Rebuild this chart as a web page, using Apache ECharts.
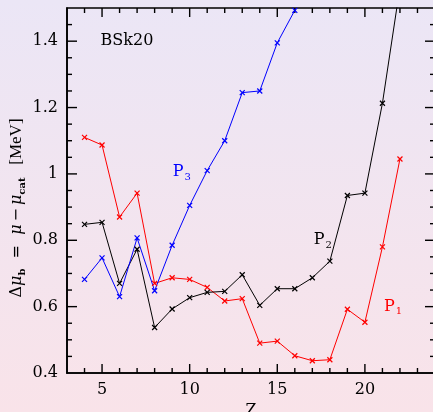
<!DOCTYPE html>
<html>
<head>
<meta charset="utf-8">
<script src="https://cdn.jsdelivr.net/npm/echarts@6/dist/echarts.min.js"></script>
<style>
  html, body { margin: 0; padding: 0; }
  #chart { width: 433px; height: 412px; }
</style>
</head>
<body>
<div id="chart"></div>
<script>
// Proton number Z of the nuclei
const zValues = [4, 5, 6, 7, 8, 9, 10, 11, 12, 13, 14, 15, 16, 17, 18, 19, 20, 21, 22];
// Δμ_b in MeV for the three pressures
const p1Values = [1.110, 1.087, 0.870, 0.942, 0.670, 0.687, 0.682, 0.658, 0.617, 0.624, 0.490, 0.496, 0.452, 0.437, 0.440, 0.592, 0.553, 0.780, 1.045];
const p2Values = [0.848, 0.854, 0.670, 0.773, 0.537, 0.593, 0.627, 0.643, 0.646, 0.696, 0.604, 0.654, 0.654, 0.687, 0.737, 0.935, 0.942, 1.213, 1.563];
const p3Values = [0.682, 0.747, 0.630, 0.807, 0.648, 0.785, 0.905, 1.010, 1.100, 1.245, 1.250, 1.395, 1.493];

// Tick positions on the frame
const xMajorTicks = [5, 10, 15, 20];
const xMinorTicks = [4, 6, 7, 8, 9, 11, 12, 13, 14, 16, 17, 18, 19, 21, 22, 23];
const yMajorTicks = [0.6, 0.8, 1.0, 1.2, 1.4];
const yMinorTicks = [0.45, 0.5, 0.55, 0.65, 0.7, 0.75, 0.85, 0.9, 0.95, 1.05, 1.1, 1.15, 1.25, 1.3, 1.35, 1.45];

const FONT = '"DejaVu Serif", "Liberation Serif", serif';
const cross = 'path://M0,0L10,10M10,0L0,10';
const X_MIN = 3, X_MAX = 24, Y_MIN = 0.4, Y_MAX = 1.5;

function pairs(ys) { return ys.map((y, i) => [zValues[i], y]); }

function series(name, ys, color) {
  return {
    name, type: 'line', data: pairs(ys), clip: true,
    symbol: cross, symbolSize: 5,
    lineStyle: { color, width: 1 },
    itemStyle: { color: 'none', borderColor: color, borderWidth: 1.2 },
    emphasis: { disabled: true },
    animation: false
  };
}

// Inward ticks on all four sides of the frame, placed through the axes' scales
// kind: 0 = minor Z, 1 = major Z, 2 = minor Δμ, 3 = major Δμ
const tickData = [].concat(
  xMinorTicks.map(v => [v, 0]),
  xMajorTicks.map(v => [v, 1]),
  yMinorTicks.map(v => [v, 2]),
  yMajorTicks.map(v => [v, 3])
);

const tickSeries = {
  type: 'custom', coordinateSystem: 'cartesian2d', clip: false, silent: true, z: 3,
  animation: false,
  dimensions: ['pos', 'kind'],
  encode: { x: -1, y: -1 },
  data: tickData,
  renderItem(params, api) {
    const v = api.value(0), kind = api.value(1);
    const style = { stroke: '#000', lineWidth: 1.4, fill: null };
    let children;
    if (kind < 2) {
      const len = kind === 1 ? 9 : 5;
      const a = api.coord([v, Y_MIN]), b = api.coord([v, Y_MAX]);
      children = [
        { type: 'line', shape: { x1: a[0], y1: a[1], x2: a[0], y2: a[1] - len }, style },
        { type: 'line', shape: { x1: b[0], y1: b[1], x2: b[0], y2: b[1] + len }, style }
      ];
    } else {
      const len = kind === 3 ? 10 : 5;
      const a = api.coord([X_MIN, v]), b = api.coord([X_MAX, v]);
      children = [
        { type: 'line', shape: { x1: a[0], y1: a[1], x2: a[0] + len, y2: a[1] }, style },
        { type: 'line', shape: { x1: b[0], y1: b[1], x2: b[0] - len, y2: b[1] }, style }
      ];
    }
    return { type: 'group', children };
  }
};

const chart = echarts.init(document.getElementById('chart'));
chart.setOption({
  animation: false,
  backgroundColor: {
    type: 'linear', x: 0, y: 0, x2: 0, y2: 1,
    colorStops: [{ offset: 0, color: '#ebe6f6' }, { offset: 1, color: '#f9e3e9' }]
  },
  grid: {
    left: 67, top: 8, right: -2, bottom: 39, outerBoundsMode: 'none', containLabel: false,
    show: true, borderColor: '#000', borderWidth: 1.6, backgroundColor: 'transparent'
  },
  xAxis: {
    type: 'value', min: X_MIN, max: X_MAX, interval: 1, position: 'bottom',
    axisLine: { show: true, lineStyle: { color: '#000', width: 1.6 } },
    axisTick: { show: false }, splitLine: { show: false },
    axisLabel: {
      color: '#000', fontFamily: FONT, fontSize: 16, margin: 9,
      formatter: v => (v % 5 === 0 ? String(v) : '')
    },
    name: 'Z', nameLocation: 'middle', nameGap: 29,
    nameTextStyle: { color: '#000', fontFamily: FONT, fontSize: 16 }
  },
  yAxis: {
    type: 'value', min: Y_MIN, max: Y_MAX, interval: 0.2, position: 'left',
    axisLine: { show: true, lineStyle: { color: '#000', width: 1.6 } },
    axisTick: { show: false }, splitLine: { show: false },
    axisLabel: {
      color: '#000', fontFamily: FONT, fontSize: 16, margin: 9,
      formatter: v => (v > 1.45 ? '' : String(Math.round(v * 10) / 10))
    }
  },
  series: [
    series('P1', p1Values, '#ff0000'),
    series('P2', p2Values, '#000000'),
    series('P3', p3Values, '#0000ff'),
    tickSeries
  ]
});

// Text annotations placed in data coordinates
const notes = [
  { z: 6.42, v: 1.40, main: 'BSk20', sub: '', color: '#000000' },
  { z: 9.55, v: 1.005, main: 'P', sub: '3', color: '#0000ff' },
  { z: 17.6, v: 0.80, main: 'P', sub: '2', color: '#000000' },
  { z: 21.6, v: 0.60, main: 'P', sub: '1', color: '#ff0000' }
];

const graphics = notes.map(n => {
  const [px, py] = chart.convertToPixel({ xAxisIndex: 0, yAxisIndex: 0 }, [n.z, n.v]);
  return {
    type: 'text', x: px, y: py, silent: true, z: 10,
    style: {
      text: n.sub ? '{m|' + n.main + '}{s|' + n.sub + '}' : '{m|' + n.main + '}',
      align: 'center', verticalAlign: 'middle',
      fill: n.color,
      rich: {
        m: { fontFamily: FONT, fontSize: 16, fill: n.color },
        s: { fontFamily: FONT, fontSize: 10, fill: n.color, padding: [10, 0, 0, 1] }
      }
    }
  };
});

// Rotated y-axis title with subscripts
graphics.push({
  type: 'text', x: 17, y: 208, rotation: Math.PI / 2, silent: true, z: 10,
  style: {
    text: '{n|Δ}{i|μ}{s|b}{n|  =  }{i|μ}{m|−}{i|μ}{s|cat}{u|   [MeV]}',
    align: 'center', verticalAlign: 'middle', fill: '#000',
    rich: {
      n: { fontFamily: FONT, fontSize: 16, fill: '#000' },
      m: { fontFamily: FONT, fontSize: 16, fill: '#000', padding: [0, 3, 0, 3] },
      i: { fontFamily: FONT, fontSize: 16, fontStyle: 'italic', fill: '#000' },
      u: { fontFamily: '"Liberation Serif", serif', fontSize: 17, fill: '#000' },
      s: { fontFamily: FONT, fontSize: 10, fontWeight: 'bold', fill: '#000', padding: [10, 0, 0, 0] }
    }
  }
});

chart.setOption({ graphic: graphics });
</script>
</body>
</html>
